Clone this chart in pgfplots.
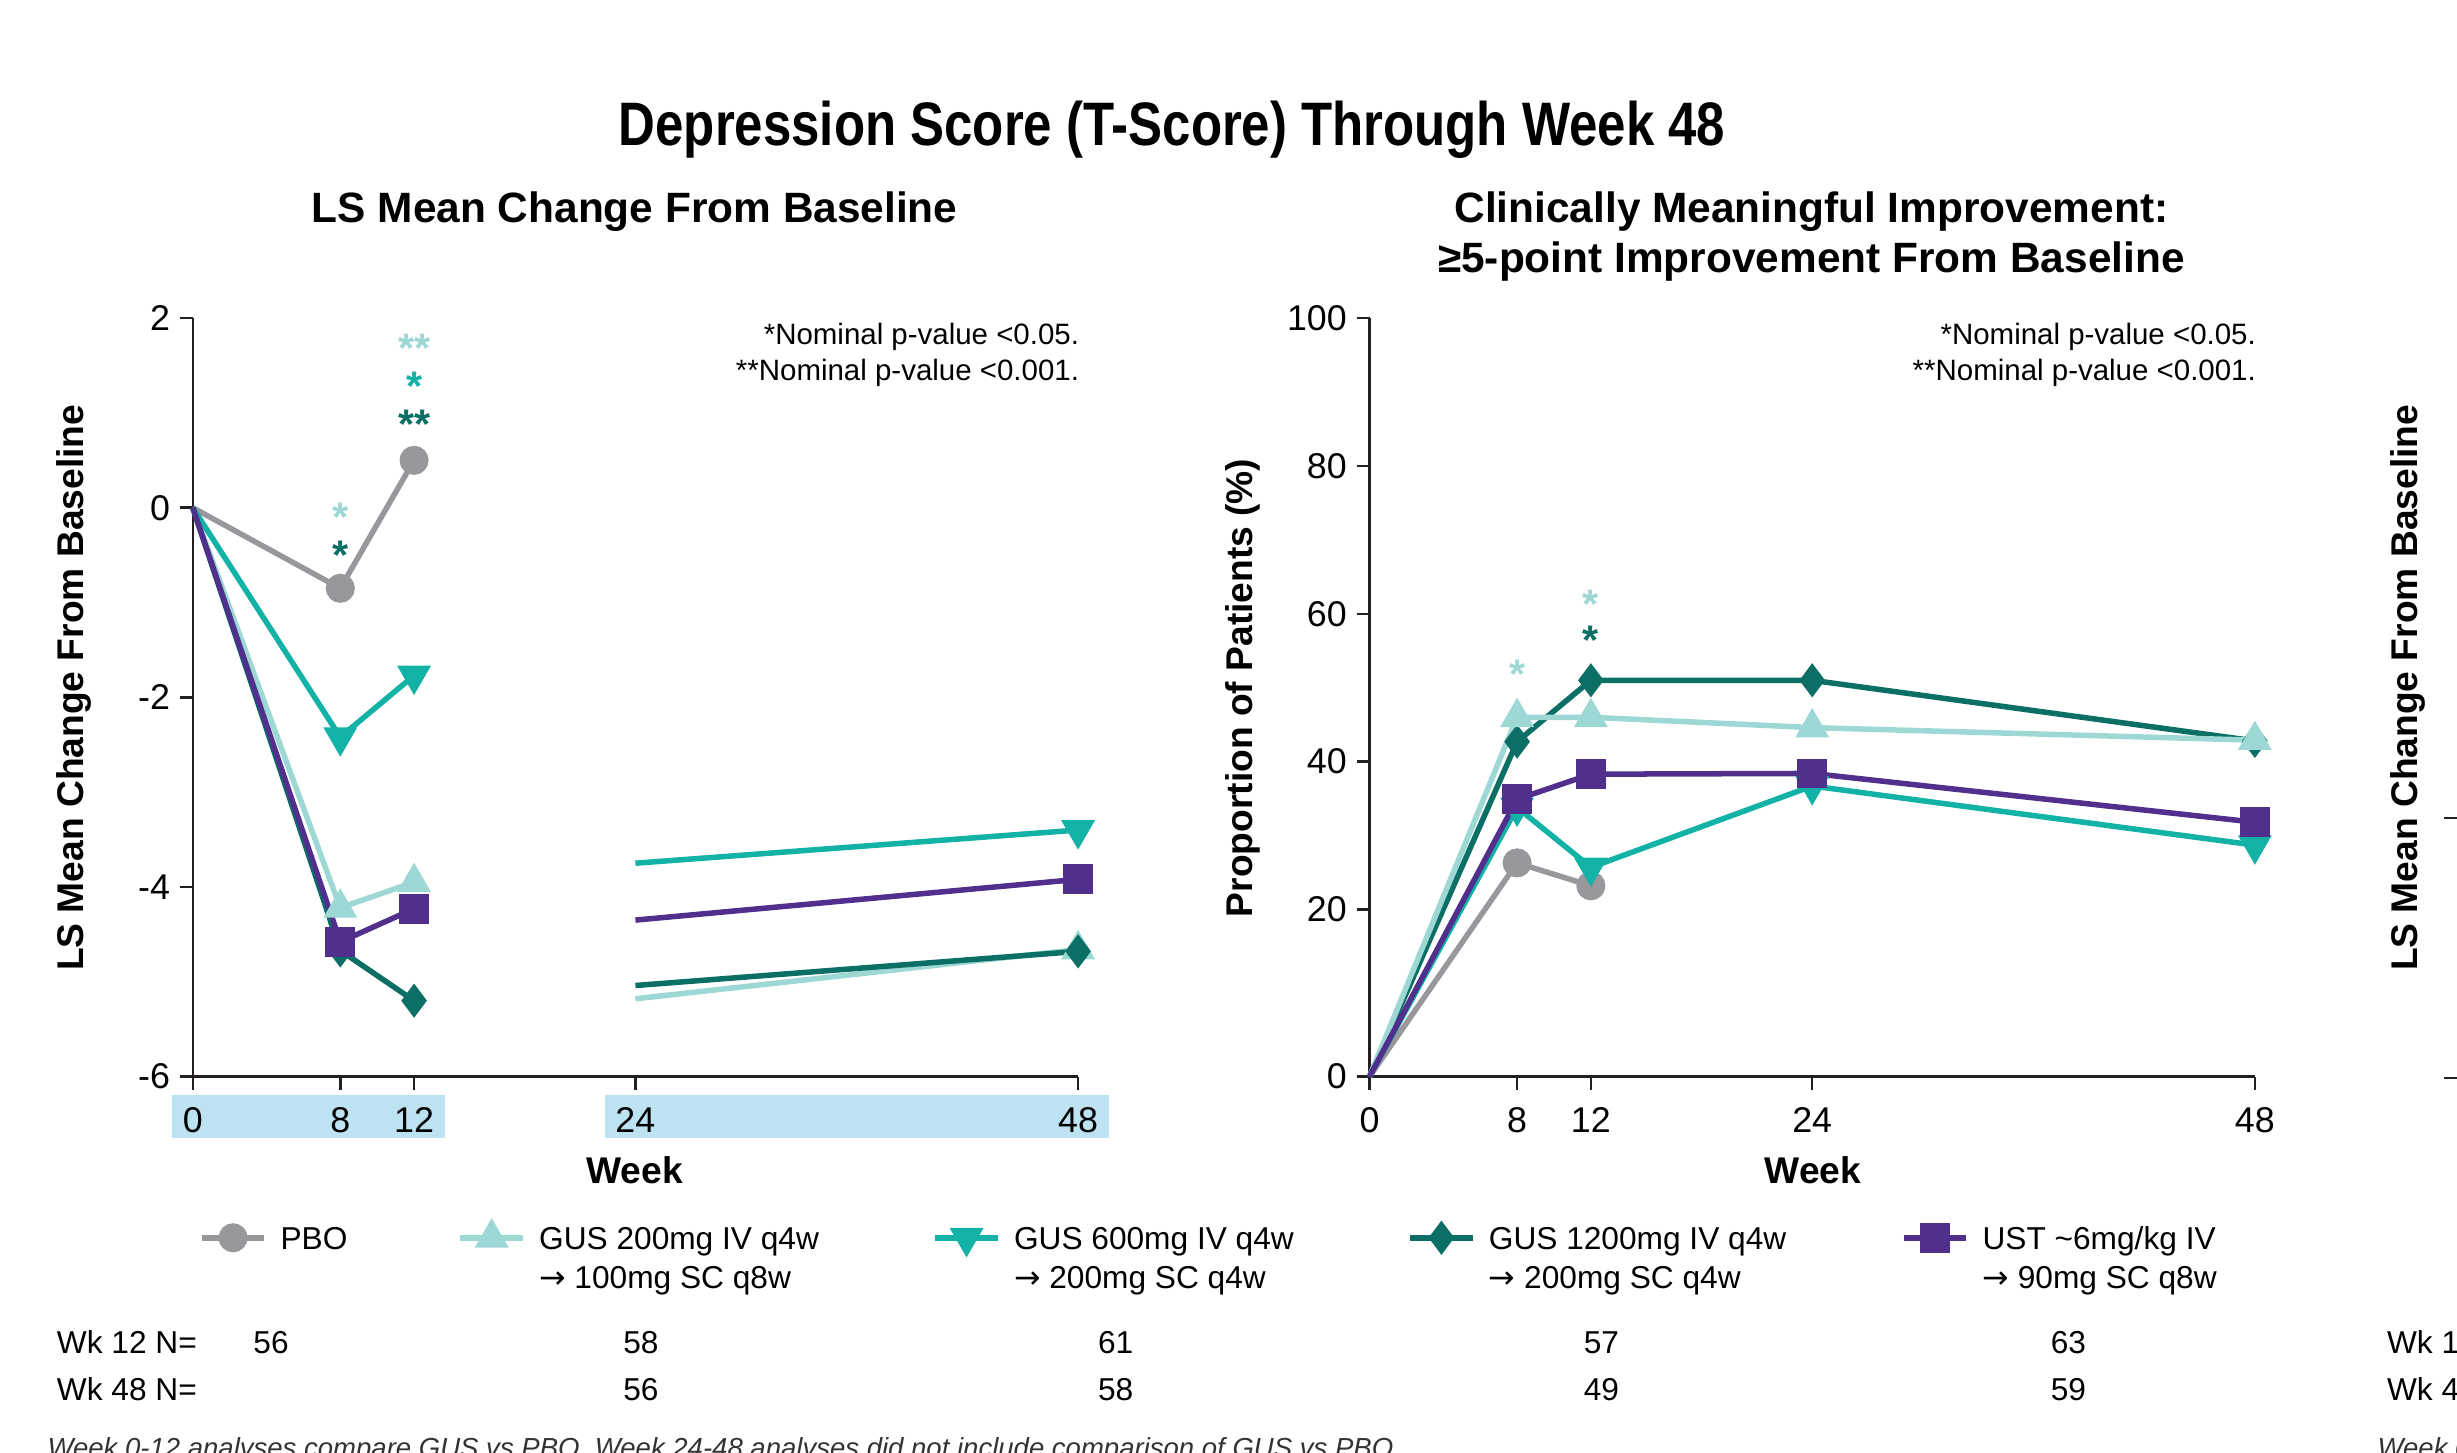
\documentclass[border=0pt]{standalone}
\usepackage{fontspec}
\setmainfont{Liberation Sans}
\newfontfamily\condfont[FakeStretch=0.83]{Liberation Sans}
\newfontfamily\djv{DejaVu Sans}
\usepackage{pgfplots}
\pgfplotsset{compat=1.18}

\definecolor{cPBO}{HTML}{98989C}
\definecolor{cGa}{HTML}{9DD8D4}
\definecolor{cGb}{HTML}{12B2A7}
\definecolor{cGc}{HTML}{0B6F66}
\definecolor{cUST}{HTML}{50308C}
\definecolor{cBox}{HTML}{BDE2F2}
\definecolor{cAx}{HTML}{231F20}

\pgfplotsset{
  myax/.style={
    scale only axis, width=113mm, height=96.8mm,
    xmin=0, xmax=48,
    axis lines=left,
    axis line style={-, line width=0.9pt, cAx},
    tick style={line width=0.9pt, cAx},
    tick align=outside, major tick length=1.66mm,
    xtick={0,8,12,24,48}, xticklabels={0,8,12,24,48},
    ticklabel style={font=\fontsize{13}{15}\selectfont, text=black},
    xticklabel style={yshift=-1mm},
    clip=false, unbounded coords=jump,
    every axis plot/.append style={line width=2pt},
  },
  sPBO/.style={color=cPBO, mark=*, mark size=1.5mm},
  sGa/.style={color=cGa, mark=triangle*, mark size=1.8mm},
  sGb/.style={color=cGb, mark=triangle*, mark size=1.8mm, mark options={rotate=180}},
  sGc/.style={color=cGc, mark=diamond*, mark size=1.6mm},
  sUST/.style={color=cUST, mark=square*, mark size=1.55mm},
}

\newcommand\sig[1]{\fontsize{15}{15}\selectfont\bfseries #1}
\newcommand\arr{{\djv →}}

\begin{document}
\begin{tikzpicture}
\useasboundingbox (0,0) rectangle (313.6mm,-185.4mm);
\begin{scope}[x=0.2mm,y=-0.2mm]
% tick label highlight boxes
\fill[cBox] (110,699) rectangle (284,726);
\fill[cBox] (386,699) rectangle (708,726);
\end{scope}

% ---------------- Left panel ----------------
\begin{axis}[myax, at={(24.6mm,-137.4mm)}, anchor=south west,
  ymin=-6, ymax=2, ytick={-6,-4,-2,0,2}, yticklabels={-6,-4,-2,0,2},
  legend style={at={(axis description cs:0.00708,-0.190)}, anchor=north west, draw=none, fill=none,
    inner sep=0pt, outer sep=0pt, column sep=0pt,
    font=\fontsize{11.5}{14.2}\selectfont,
    /tikz/every odd column/.append style={column sep=1.0mm},
    cells={anchor=base west, inner sep=0pt}},
  legend columns=5,
  legend image code/.code={\draw[#1, mark indices={2}, yshift=4.1pt] plot coordinates {(0mm,0mm) (4mm,0mm) (8mm,0mm)};},
]
\addplot[sPBO, mark indices={2,3}] coordinates {(0,0) (8,-0.85) (12,0.50)};
\addlegendentry{\parbox[t]{21.9mm}{PBO}}
\addplot[sGa, mark indices={2,3,5,6}] coordinates {(0,0) (8,-4.22) (12,-3.95) (18,nan) (24,-5.18) (48,-4.66)};
\addlegendentry{\parbox[t]{49.5mm}{GUS 200mg IV q4w\\\arr\ 100mg SC q8w}}
\addplot[sGb, mark indices={2,3,5,6}] coordinates {(0,0) (8,-2.42) (12,-1.77) (18,nan) (24,-3.75) (48,-3.40)};
\addlegendentry{\parbox[t]{49.5mm}{GUS 600mg IV q4w\\\arr\ 200mg SC q4w}}
\addplot[sGc, mark indices={2,3,5,6}] coordinates {(0,0) (8,-4.67) (12,-5.20) (18,nan) (24,-5.04) (48,-4.68)};
\addlegendentry{\parbox[t]{51.9mm}{GUS 1200mg IV q4w\\\arr\ 200mg SC q4w}}
\addplot[sUST, mark indices={2,3,5,6}] coordinates {(0,0) (8,-4.58) (12,-4.23) (18,nan) (24,-4.35) (48,-3.92)};
\addlegendentry{\parbox[t]{40mm}{UST \textasciitilde6mg/kg IV\\\arr\ 90mg SC q8w}}
% significance markers
\node[text=cGa, yshift=-1.5pt] at (axis cs:8,-0.06) {\sig{*}};
\node[text=cGc, yshift=-1.5pt] at (axis cs:8,-0.46) {\sig{*}};
\node[text=cGa, yshift=-1.5pt] at (axis cs:12,1.72) {\sig{**}};
\node[text=cGb, yshift=-1.5pt] at (axis cs:12,1.32) {\sig{*}};
\node[text=cGc, yshift=-1.5pt] at (axis cs:12,0.92) {\sig{**}};
\end{axis}

% ---------------- Right panel ----------------
\begin{axis}[myax, at={(174.8mm,-137.4mm)}, anchor=south west,
  ymin=-2.6, ymax=100, ytick={-2.6,20,40,60,80,100}, yticklabels={0,20,40,60,80,100},
]
\addplot[sPBO, mark indices={2,3}] coordinates {(0,-2.6) (8,26.3) (12,23.2)};
\addplot[sGc, mark indices={2,3,4,5}] coordinates {(0,-2.6) (8,42.7) (12,51.0) (24,51.0) (48,42.8)};
\addplot[sGa, mark indices={2,3,4,5}] coordinates {(0,-2.6) (8,46.0) (12,46.0) (24,44.6) (48,42.9)};
\addplot[sGb, mark indices={2,3,4,5}] coordinates {(0,-2.6) (8,33.8) (12,25.7) (24,36.7) (48,28.7)};
\addplot[sUST, mark indices={2,3,4,5}] coordinates {(0,-2.6) (8,34.9) (12,38.3) (24,38.4) (48,31.8)};
\node[text=cGa, yshift=-1.5pt] at (axis cs:8,52.4) {\sig{*}};
\node[text=cGa, yshift=-1.5pt] at (axis cs:12,61.9) {\sig{*}};
\node[text=cGc, yshift=-1.5pt] at (axis cs:12,57.0) {\sig{*}};
\end{axis}

\begin{scope}[x=0.2mm,y=-0.2mm, every node/.style={inner sep=0pt}]
% ---------------- Titles and labels ----------------
\node[anchor=base, font=\condfont\bfseries\fontsize{22.3}{26}\selectfont] at (748,93) {Depression Score (T-Score) Through Week 48};
\node[anchor=base, font=\bfseries\fontsize{15.4}{18}\selectfont] at (405,142) {LS Mean Change From Baseline};
\node[anchor=base, font=\bfseries\fontsize{15.4}{18}\selectfont] at (1156,142) {Clinically Meaningful Improvement:};
\node[anchor=base, font=\bfseries\fontsize{15.4}{18}\selectfont] at (1156,174) {≥5-point Improvement From Baseline};

\node[rotate=90, font=\bfseries\fontsize{13.5}{16}\selectfont] at (47,439) {LS Mean Change From Baseline};
\node[rotate=90, font=\bfseries\fontsize{13.5}{16}\selectfont] at (793,439) {Proportion of Patients (\%)};
\node[rotate=90, font=\bfseries\fontsize{13.5}{16}\selectfont] at (1537,439) {LS Mean Change From Baseline};
\draw[line width=0.9pt, cAx] (1560,522) -- (1570,522);
\draw[line width=0.9pt, cAx] (1560,688) -- (1570,688);

\node[anchor=base, font=\bfseries\fontsize{13.5}{16}\selectfont] at (405,755) {Week};
\node[anchor=base, font=\bfseries\fontsize{13.5}{16}\selectfont] at (1157,755) {Week};

\node[anchor=base east, font=\fontsize{10.7}{13}\selectfont] at (689,220) {*Nominal p-value <0.05.};
\node[anchor=base east, font=\fontsize{10.7}{13}\selectfont] at (689,243) {**Nominal p-value <0.001.};
\node[anchor=base east, font=\fontsize{10.7}{13}\selectfont] at (1440,220) {*Nominal p-value <0.05.};
\node[anchor=base east, font=\fontsize{10.7}{13}\selectfont] at (1440,243) {**Nominal p-value <0.001.};

% N table
\begin{scope}[every node/.style={font=\fontsize{11.5}{14}\selectfont, inner sep=0pt}]
\node[anchor=base west] at (36,864) {Wk 12 N=};
\node[anchor=base west] at (36,894) {Wk 48 N=};
\node[anchor=base] at (173,864) {56};
\node[anchor=base] at (409,864) {58};
\node[anchor=base] at (712,864) {61};
\node[anchor=base] at (1022,864) {57};
\node[anchor=base] at (1320,864) {63};
\node[anchor=base] at (409,894) {56};
\node[anchor=base] at (712,894) {58};
\node[anchor=base] at (1022,894) {49};
\node[anchor=base] at (1320,894) {59};
\node[anchor=base west] at (1523,864) {Wk 12 N=};
\node[anchor=base west] at (1523,894) {Wk 48 N=};
\end{scope}
\node[anchor=base west, font=\itshape\fontsize{10}{12}\selectfont, text=black!80] at (30,930) {Week 0-12 analyses compare GUS vs PBO. Week 24-48 analyses did not include comparison of GUS vs PBO.};
\node[anchor=base west, font=\itshape\fontsize{10}{12}\selectfont, text=black!80] at (1517,930) {Week 0-12 analyses};
\end{scope}
\end{tikzpicture}
\end{document}
